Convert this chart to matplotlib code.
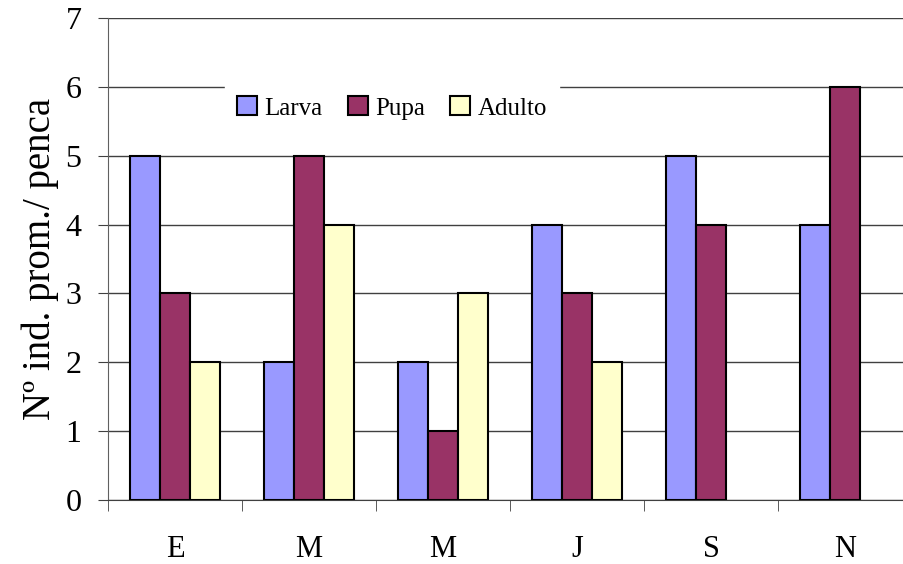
import numpy as np
import matplotlib.pyplot as plt

meses = ['E', 'M', 'M', 'J', 'S', 'N']
larva = [5, 2, 2, 4, 5, 4]
pupa = [3, 5, 1, 3, 4, 6]
adulto = [2, 4, 3, 2, 0, 0]

plt.rcParams['font.family'] = ['Liberation Serif', 'DejaVu Serif']

fig = plt.figure(figsize=(9.04, 5.64), dpi=100)
# el gráfico original está recortado a la derecha
ax = fig.add_axes([108 / 904, 64 / 564, 804 / 904, 482 / 564])

x = np.arange(len(meses))
w = 0.224
series = [(larva, '#9999FF', 'Larva', -w), (pupa, '#993366', 'Pupa', 0), (adulto, '#FFFFCC', 'Adulto', w)]
for vals, col, lab, off in series:
    bars = ax.bar(x + off, vals, w, color=col, edgecolor='black', linewidth=1.5, label=lab, zorder=3)
    # las barras en cero no se ven en el original
    for b, v in zip(bars, vals):
        if v == 0:
            b.set_visible(False)

ax.set_xlim(-0.5, len(meses) - 0.5)
ax.set_ylim(0, 7)
ax.set_yticks(range(8))
ax.yaxis.grid(True, color='#404040', linewidth=1)
ax.set_axisbelow(True)

ax.set_xticks(x)
ax.set_xticklabels(meses)
ax.set_xticks(np.arange(len(meses) + 1) - 0.5, minor=True)
ax.tick_params(axis='x', which='major', length=0, pad=25, labelsize=22)
ax.tick_params(axis='x', which='minor', length=8, direction='out', color='#404040')
ax.tick_params(axis='y', length=7, direction='out', labelsize=23, color='#404040', pad=12)

for s in ['top', 'right']:
    ax.spines[s].set_visible(False)
ax.spines['left'].set_color('#606060')
ax.spines['bottom'].set_color('#404040')

ax.set_ylabel('Nº ind. prom./ penca', fontsize=28, labelpad=5)

leg = ax.legend(loc='center', bbox_to_anchor=(392 / 904, 1 - 108 / 564),
                bbox_transform=fig.transFigure, ncol=3, fontsize=18,
                frameon=True, fancybox=False, edgecolor='white', facecolor='white',
                framealpha=1, handlelength=0.8, handleheight=0.8, handletextpad=0.3,
                columnspacing=1.0, borderpad=0.5)
for h in leg.legend_handles:
    h.set_linewidth(1.5)

fig.savefig('out.png', dpi=100)
